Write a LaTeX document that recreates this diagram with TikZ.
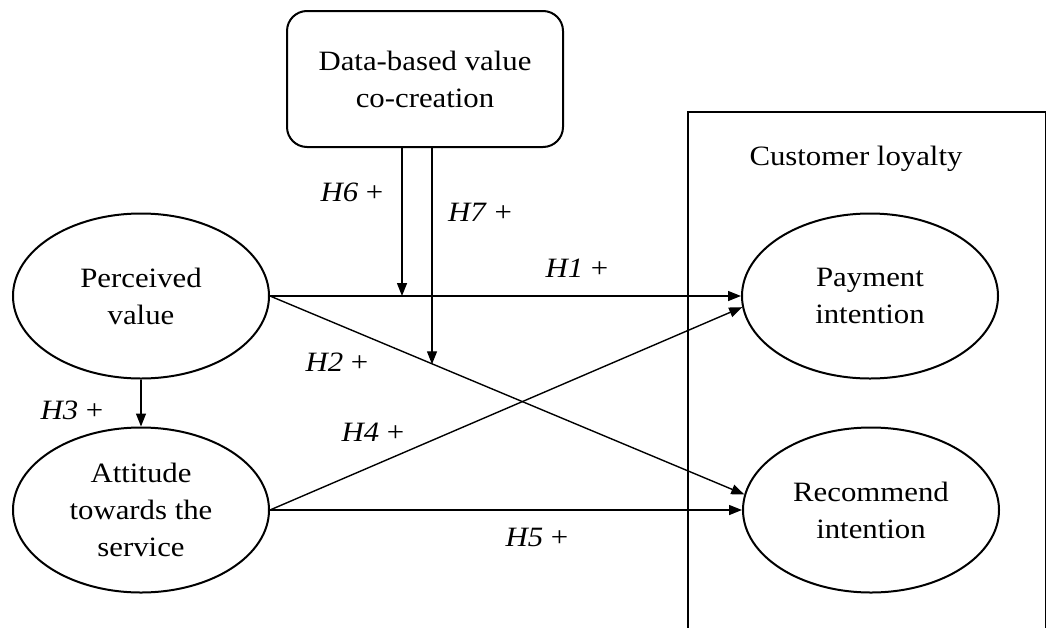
\documentclass[tikz,border=0pt]{standalone}
\usepackage{fontspec}
\setmainfont{Liberation Serif}[FakeStretch=1.1]
\usetikzlibrary{arrows.meta,shapes.geometric}

\begin{document}
\begin{tikzpicture}[x=1pt,y=-1pt,
   construct/.style={draw, ellipse, line width=2pt, minimum width=256pt,
      minimum height=165pt, inner sep=0pt, align=center},
   link/.style={-{Triangle[length=13pt,width=10pt]}, line width=1.4pt},
   hyp/.style={font=\itshape},
   every node/.style={font=\fontsize{28}{37}\selectfont}]
   \useasboundingbox (0,0) rectangle (1046,627);
   \clip (0,0) rectangle (1046,627);

   % moderator on top
   \node[draw, rounded corners=20pt, line width=2pt, minimum width=276pt,
      minimum height=136pt, align=center] (db) at (425,79) {Data-based value\\co-creation};

   % outcome block
   \draw[line width=2pt] (688,640) -- (688,112) -- (1046,112) -- (1046,640);
   \node (loyalty) at (856,159) {Customer loyalty};

   \node[construct] (pv) at (141,296) {Perceived\\value};
   \node[construct] (att) at (141,510) {Attitude\\towards the\\service};
   \node[construct] (pi) at (870,296) {Payment\\intention};
   \node[construct] (ri) at (871,510) {Recommend\\intention};

   % direct paths
   \draw[link] (pv.east) -- (pi.west);
   \draw[link] (pv.east) -- coordinate[pos=0.344] (h7end) (ri.173);
   \draw[link] (pv.south) -- (att.north);
   \draw[link] (att.east) -- (pi.185);
   \draw[link] (att.east) -- (ri.west);

   % moderation arrows
   \coordinate (h6start) at ([xshift=-23pt]db.south);
   \coordinate (h7start) at ([xshift=7pt]db.south);
   \draw[link] (h6start) -- (h6start |- pv.east);
   \draw[link] (h7start) -- (h7start |- h7end);

   \node (l1) at (577,268) {\textit{H1} +};
   \node (l2) at (337,362) {\textit{H2} +};
   \node (l3) at (72,410) {\textit{H3} +};
   \node (l4) at (373,432) {\textit{H4} +};
   \node (l5) at (537,537) {\textit{H5} +};
   \node (l6) at (352,192) {\textit{H6} +};
   \node (l7) at (480,212) {\textit{H7} +};
\end{tikzpicture}
\end{document}
